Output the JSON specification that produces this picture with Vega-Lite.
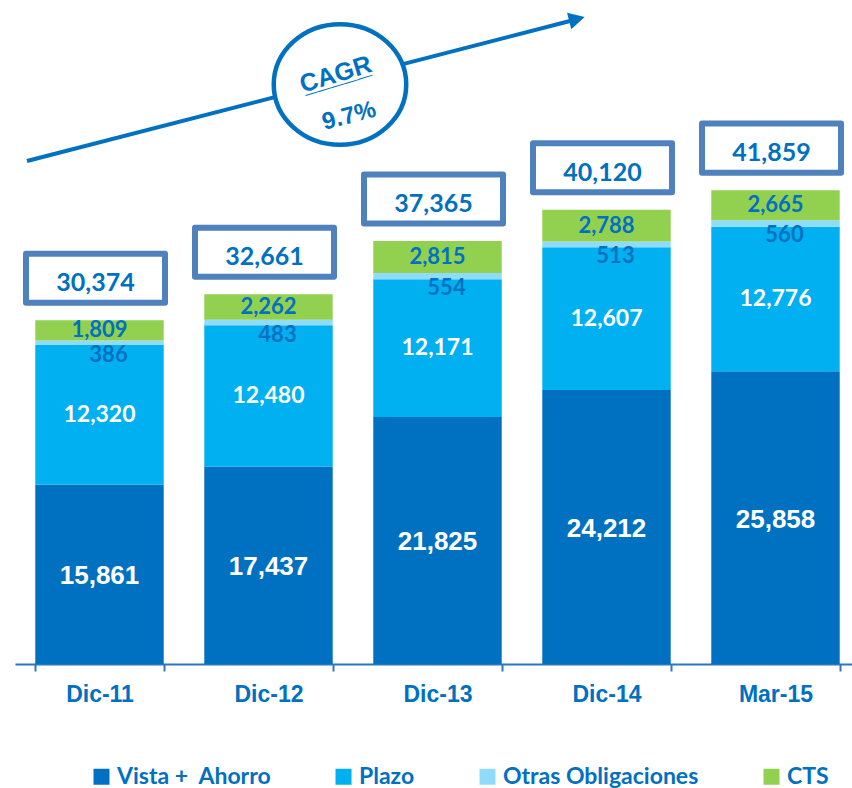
{
  "$schema": "https://vega.github.io/schema/vega-lite/v6.json",
  "width": 837,
  "height": 664,
  "autosize": {"type": "none"},
  "padding": {"left": 15, "top": 0, "right": 0, "bottom": 124},
  "background": "white",
  "config": {"view": {"stroke": null}},
  "datasets": {
    "seg": [
      {"period": "Dic-11", "serie": "Vista + \u00a0Ahorro", "o": 1, "value": 15861},
      {"period": "Dic-11", "serie": "Plazo", "o": 2, "value": 12320},
      {"period": "Dic-11", "serie": "Otras Obligaciones", "o": 3, "value": 386},
      {"period": "Dic-11", "serie": "CTS", "o": 4, "value": 1809},
      {"period": "Dic-12", "serie": "Vista + \u00a0Ahorro", "o": 1, "value": 17437},
      {"period": "Dic-12", "serie": "Plazo", "o": 2, "value": 12480},
      {"period": "Dic-12", "serie": "Otras Obligaciones", "o": 3, "value": 483},
      {"period": "Dic-12", "serie": "CTS", "o": 4, "value": 2262},
      {"period": "Dic-13", "serie": "Vista + \u00a0Ahorro", "o": 1, "value": 21825},
      {"period": "Dic-13", "serie": "Plazo", "o": 2, "value": 12171},
      {"period": "Dic-13", "serie": "Otras Obligaciones", "o": 3, "value": 554},
      {"period": "Dic-13", "serie": "CTS", "o": 4, "value": 2815},
      {"period": "Dic-14", "serie": "Vista + \u00a0Ahorro", "o": 1, "value": 24212},
      {"period": "Dic-14", "serie": "Plazo", "o": 2, "value": 12607},
      {"period": "Dic-14", "serie": "Otras Obligaciones", "o": 3, "value": 513},
      {"period": "Dic-14", "serie": "CTS", "o": 4, "value": 2788},
      {"period": "Mar-15", "serie": "Vista + \u00a0Ahorro", "o": 1, "value": 25858},
      {"period": "Mar-15", "serie": "Plazo", "o": 2, "value": 12776},
      {"period": "Mar-15", "serie": "Otras Obligaciones", "o": 3, "value": 560},
      {"period": "Mar-15", "serie": "CTS", "o": 4, "value": 2665}
    ],
    "tot": [
      {"period": "Dic-11", "total": 30374},
      {"period": "Dic-12", "total": 32661},
      {"period": "Dic-13", "total": 37365},
      {"period": "Dic-14", "total": 40120},
      {"period": "Mar-15", "total": 41859}
    ]
  },
  "layer": [
    {
      "layer": [
        {
          "data": {"name": "seg"},
          "mark": {"type": "bar"},
          "encoding": {
            "x": {
              "field": "period", "type": "nominal", "sort": null,
              "scale": {"range": [0, 845], "paddingInner": 0.24, "paddingOuter": 0.12},
              "axis": {
                "title": null, "labelAngle": 0,
                "domainColor": "#2E75C0", "domainWidth": 2,
                "tickColor": "#2E75C0", "tickWidth": 2, "tickSize": 7, "tickBand": "extent",
                "labelFont": "Liberation Sans", "labelFontWeight": "bold", "labelFontSize": 23,
                "labelColor": "#0070C0", "labelPadding": 12
              }
            },
            "y": {
              "field": "value", "type": "quantitative", "stack": "zero",
              "scale": {"domain": [0, 58657], "nice": false}, "axis": null
            },
            "color": {
              "field": "serie", "type": "nominal", "sort": null,
              "scale": {
                "domain": ["Vista + \u00a0Ahorro", "Plazo", "Otras Obligaciones", "CTS"],
                "range": ["#0070C0", "#00B0F0", "#8EDCF9", "#92D050"]
              },
              "legend": {
                "title": null, "orient": "none", "legendX": 75, "legendY": 765,
                "direction": "horizontal", "columns": 4,
                "symbolType": "square", "symbolSize": 256, "symbolStrokeWidth": 0,
                "labelFont": "Lato", "labelFontWeight": "bold", "labelFontSize": 23,
                "labelColor": "#0070C0", "columnPadding": 61, "labelOffset": 4, "labelLimit": 400
              }
            },
            "order": {"field": "o"}
          }
        },
        {
          "data": {"name": "seg"},
          "transform": [
            {"stack": "value", "groupby": ["period"], "sort": [{"field": "o", "order": "ascending"}], "as": ["v0", "v1"]},
            {"calculate": "(datum.v0 + datum.v1) / 2", "as": "mid"},
            {"filter": "datum.o == 1"}
          ],
          "mark": {"type": "text", "font": "Liberation Sans", "fontWeight": "bold", "fontSize": 26, "fill": "white", "baseline": "middle", "dy": 2},
          "encoding": {
            "x": {"field": "period", "type": "nominal", "sort": null},
            "y": {"field": "mid", "type": "quantitative"},
            "text": {"field": "value", "type": "quantitative", "format": ","}
          }
        },
        {
          "data": {"name": "seg"},
          "transform": [
            {"stack": "value", "groupby": ["period"], "sort": [{"field": "o", "order": "ascending"}], "as": ["v0", "v1"]},
            {"calculate": "(datum.v0 + datum.v1) / 2", "as": "mid"},
            {"filter": "datum.o == 2"}
          ],
          "mark": {"type": "text", "font": "Lato", "fontWeight": "bold", "fontSize": 23, "fill": "white", "baseline": "middle"},
          "encoding": {
            "x": {"field": "period", "type": "nominal", "sort": null},
            "y": {"field": "mid", "type": "quantitative"},
            "text": {"field": "value", "type": "quantitative", "format": ","}
          }
        },
        {
          "data": {"name": "seg"},
          "transform": [
            {"stack": "value", "groupby": ["period"], "sort": [{"field": "o", "order": "ascending"}], "as": ["v0", "v1"]},
            {"calculate": "(datum.v0 + datum.v1) / 2", "as": "mid"},
            {"filter": "datum.o == 3"}
          ],
          "mark": {"type": "text", "font": "Lato", "fontWeight": "bold", "fontSize": 22, "fill": "#0070C0", "baseline": "middle", "dx": 9, "dy": 12},
          "encoding": {
            "x": {"field": "period", "type": "nominal", "sort": null},
            "y": {"field": "mid", "type": "quantitative"},
            "text": {"field": "value", "type": "quantitative", "format": ","}
          }
        },
        {
          "data": {"name": "seg"},
          "transform": [
            {"stack": "value", "groupby": ["period"], "sort": [{"field": "o", "order": "ascending"}], "as": ["v0", "v1"]},
            {"calculate": "(datum.v0 + datum.v1) / 2", "as": "mid"},
            {"filter": "datum.o == 4"}
          ],
          "mark": {"type": "text", "font": "Lato", "fontWeight": "bold", "fontSize": 22, "fill": "#0070C0", "baseline": "middle"},
          "encoding": {
            "x": {"field": "period", "type": "nominal", "sort": null},
            "y": {"field": "mid", "type": "quantitative"},
            "text": {"field": "value", "type": "quantitative", "format": ","}
          }
        },
        {
          "data": {"name": "tot"},
          "mark": {
            "type": "point", "shape": "M-1,-0.353H1V0.353H-1Z", "size": 19321,
            "filled": true, "fill": "white", "stroke": "#4F81BD", "strokeWidth": 6,
            "strokeJoin": "round", "opacity": 1, "yOffset": -42, "xOffset": -4
          },
          "encoding": {
            "x": {"field": "period", "type": "nominal", "sort": null},
            "y": {"field": "total", "type": "quantitative"}
          }
        },
        {
          "data": {"name": "tot"},
          "mark": {"type": "text", "font": "Lato", "fontWeight": "bold", "fontSize": 25, "fill": "#0070C0", "baseline": "middle", "dy": -37, "dx": -4},
          "encoding": {
            "x": {"field": "period", "type": "nominal", "sort": null},
            "y": {"field": "total", "type": "quantitative"},
            "text": {"field": "total", "type": "quantitative", "format": ","}
          }
        }
      ]
    },
    {
      "layer": [
        {
          "data": {"values": [{"ax": 0.071, "ay": 44435, "bx": 3.284, "by": 56802}]},
          "mark": {"type": "rule", "color": "#0070C0", "strokeWidth": 4},
          "encoding": {
            "x": {"field": "ax", "type": "quantitative", "scale": {"domain": [0, 5], "range": [0, 845], "nice": false, "zero": false}, "axis": null},
            "y": {"field": "ay", "type": "quantitative"},
            "x2": {"field": "bx"},
            "y2": {"field": "by"}
          }
        },
        {
          "data": {"values": [{"ax": 3.325, "ay": 56979}]},
          "mark": {"type": "point", "shape": "M-0.5,-0.53L0.5,0L-0.5,0.53Z", "size": 1024, "filled": true, "color": "#0070C0", "opacity": 1, "angle": 345.5},
          "encoding": {
            "x": {"field": "ax", "type": "quantitative", "axis": null},
            "y": {"field": "ay", "type": "quantitative"}
          }
        },
        {
          "data": {"values": [{"ax": 1.923, "ay": 51193}]},
          "mark": {"type": "point", "shape": "M-1,0A1,0.909 0 1,1 1,0A1,0.909 0 1,1 -1,0Z", "size": 17556, "filled": true, "fill": "white", "stroke": "#0070C0", "strokeWidth": 4.5, "opacity": 1},
          "encoding": {
            "x": {"field": "ax", "type": "quantitative", "axis": null},
            "y": {"field": "ay", "type": "quantitative"}
          }
        },
        {
          "data": {"values": [{"ax": 1.911, "ay": 51413, "label": "CAGR"}]},
          "mark": {"type": "text", "font": "Liberation Sans", "fontWeight": "bold", "fontSize": 25, "fill": "#0070C0", "align": "center", "baseline": "alphabetic", "angle": 343},
          "encoding": {
            "x": {"field": "ax", "type": "quantitative", "axis": null},
            "y": {"field": "ay", "type": "quantitative"},
            "text": {"field": "label"}
          }
        },
        {
          "data": {"values": [{"ax": 1.911, "ay": 51413, "label": "_____"}]},
          "mark": {"type": "text", "font": "Liberation Sans", "fontWeight": "bold", "fontSize": 25, "fill": "#0070C0", "align": "center", "baseline": "alphabetic", "angle": 343, "dy": 1},
          "encoding": {
            "x": {"field": "ax", "type": "quantitative", "axis": null},
            "y": {"field": "ay", "type": "quantitative"},
            "text": {"field": "label"}
          }
        },
        {
          "data": {"values": [{"ax": 1.988, "ay": 47792, "label": "9.7%"}]},
          "mark": {"type": "text", "font": "Liberation Sans", "fontWeight": "bold", "fontSize": 24, "fill": "#0070C0", "align": "center", "baseline": "alphabetic", "angle": 345},
          "encoding": {
            "x": {"field": "ax", "type": "quantitative", "axis": null},
            "y": {"field": "ay", "type": "quantitative"},
            "text": {"field": "label"}
          }
        }
      ]
    }
  ],
  "resolve": {"scale": {"x": "independent"}}
}
